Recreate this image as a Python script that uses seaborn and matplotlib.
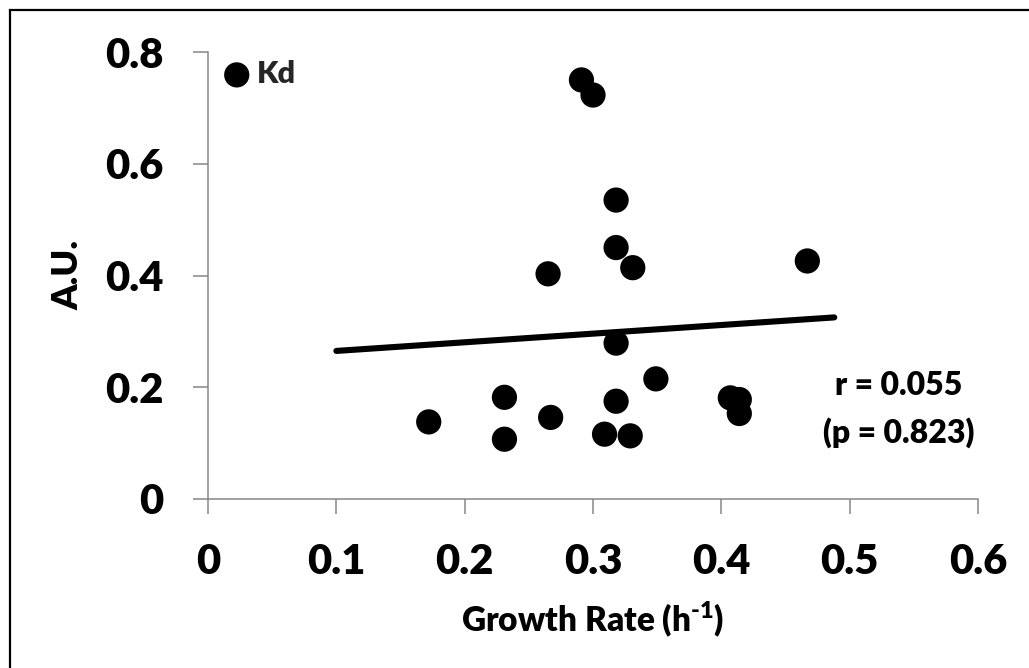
import matplotlib
matplotlib.use("Agg")
import matplotlib.pyplot as plt
from matplotlib.lines import Line2D
import seaborn as sns
import pandas as pd

# ---- data ----
growth_rate = [0.172, 0.231, 0.231, 0.265, 0.267, 0.291, 0.300, 0.318, 0.318, 0.331,
               0.318, 0.318, 0.309, 0.329, 0.349, 0.407, 0.414, 0.414, 0.467]
kd_values = [0.138, 0.182, 0.107, 0.403, 0.146, 0.750, 0.723, 0.535, 0.450, 0.414,
             0.279, 0.175, 0.116, 0.113, 0.215, 0.181, 0.178, 0.153, 0.426]
trend_x = [0.10, 0.488]
trend_y = [0.265, 0.325]
x_ticks = [0, 0.1, 0.2, 0.3, 0.4, 0.5, 0.6]
x_tick_labels = ["0", "0.1", "0.2", "0.3", "0.4", "0.5", "0.6"]
y_ticks = [0, 0.2, 0.4, 0.6, 0.8]
y_tick_labels = ["0", "0.2", "0.4", "0.6", "0.8"]
series_label = "Kd"
stats_lines = ["r = 0.055", "(p = 0.823)"]

WEIGHT = "heavy"

sns.set_theme(style="white")
plt.rcParams["font.family"] = ["Lato", "DejaVu Sans"]
plt.rcParams["font.weight"] = WEIGHT
plt.rcParams["mathtext.fontset"] = "custom"
plt.rcParams["mathtext.rm"] = "Lato:heavy"
plt.rcParams["mathtext.default"] = "rm"

W, H = 1029, 668
fig = plt.figure(figsize=(W / 100, H / 100), dpi=100)
fig.patch.set_facecolor("white")
ax = fig.add_axes([208 / W, 1 - 499 / H, (978 - 208) / W, (499 - 52) / H])

df = pd.DataFrame({"x": growth_rate, "y": kd_values})
sns.scatterplot(data=df, x="x", y="y", s=330, color="black", edgecolor="none",
                linewidth=0, label=series_label, ax=ax, zorder=3, clip_on=False)
tdf = pd.DataFrame({"x": trend_x, "y": trend_y})
sns.lineplot(data=tdf, x="x", y="y", color="black", linewidth=4.4, ax=ax,
             legend=False, solid_capstyle="round", zorder=2)

ax.set_xlim(0, 0.6)
ax.set_ylim(0, 0.8)
ax.set_xticks(x_ticks)
ax.set_xticklabels(x_tick_labels)
ax.set_yticks(y_ticks)
ax.set_yticklabels(y_tick_labels)

gray = "#868686"
for s in ["top", "right"]:
    ax.spines[s].set_visible(False)
for s in ["left", "bottom"]:
    ax.spines[s].set_color(gray)
    ax.spines[s].set_linewidth(1.1)
ax.tick_params(axis="both", direction="out", length=10.8, width=1.1, color=gray,
               labelsize=30, labelcolor="black", left=True, bottom=True)
ax.tick_params(axis="y", pad=21)
ax.tick_params(axis="x", pad=21)
for lab in ax.get_xticklabels() + ax.get_yticklabels():
    lab.set_fontweight(WEIGHT)

ax.set_xlabel(r"Growth Rate (h$^{\text{-1}}$)", fontsize=24, fontweight=WEIGHT,
              color="black", labelpad=13)
ax.set_ylabel("A.U.", fontsize=26, fontweight=WEIGHT, color="black", labelpad=15)

handles, labels = ax.get_legend_handles_labels()
leg = ax.legend(handles[:1], labels[:1], loc="center left",
                bbox_to_anchor=(0.0175, 0.951), frameon=False, borderpad=0,
                borderaxespad=0, handlelength=1.0, handletextpad=0.15,
                prop={"size": 22, "weight": WEIGHT}, markerscale=1.0)

ax.text(0.538, 0.186, stats_lines[0], ha="center", va="baseline", fontsize=23,
        fontweight=WEIGHT, color="black")
ax.text(0.538, 0.1000, stats_lines[1], ha="center", va="baseline", fontsize=23,
        fontweight=WEIGHT, color="black")

# outer chart border (left and top edges visible)
fig.add_artist(Line2D([9.5 / W, 9.5 / W], [0, 1 - 10 / H], transform=fig.transFigure,
                      color="black", linewidth=1.6))
fig.add_artist(Line2D([9.5 / W, 1.0], [1 - 10 / H, 1 - 10 / H], transform=fig.transFigure,
                      color="black", linewidth=1.6, solid_capstyle="projecting"))

fig.savefig("out.png", dpi=100, facecolor="white")
